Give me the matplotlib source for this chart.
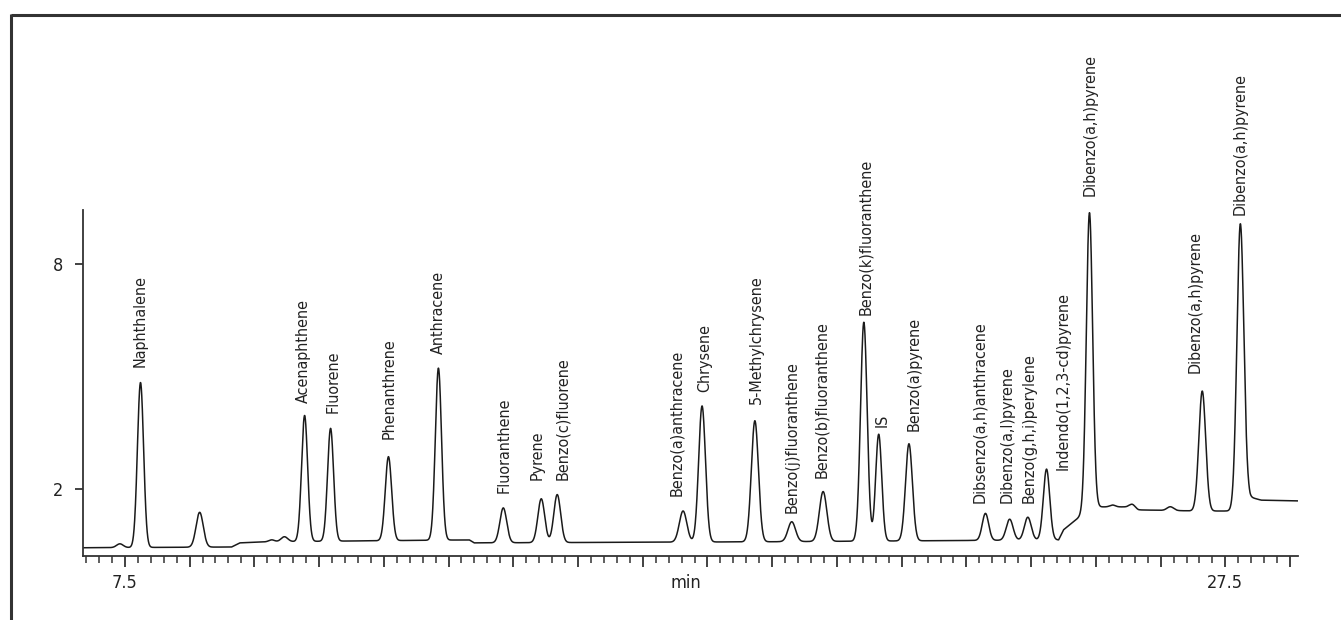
import numpy as np
import matplotlib
matplotlib.use("Agg")
import matplotlib.pyplot as plt
from matplotlib.lines import Line2D
from matplotlib.ticker import FixedLocator, FuncFormatter

plt.rcParams['font.family'] = ['DejaVu Sans']
plt.rcParams['font.stretch'] = 'condensed'

# peak table (retention time in min, height above baseline, sigma in min)
peak_rt = [7.41, 7.785, 8.86, 10.17, 10.40, 10.767, 11.239, 12.291, 13.199,
           14.378, 15.068, 15.358, 17.645, 17.99, 18.95, 19.62, 20.19,
           20.93, 21.20, 21.75, 23.14, 23.58, 23.91, 24.25, 25.03,
           25.45, 25.81, 26.50, 27.08, 27.77]
peak_height = [0.10, 4.40, 0.93, 0.05, 0.13, 3.36, 3.01, 2.24, 4.59,
               0.93, 1.17, 1.28, 0.83, 3.63, 3.23, 0.53, 1.33,
               5.84, 2.85, 2.59, 0.72, 0.56, 0.61, 1.89, 7.92,
               0.05, 0.10, 0.10, 3.20, 7.39]
peak_sigma = [0.06, 0.056, 0.065, 0.05, 0.06, 0.055, 0.055, 0.058, 0.056,
              0.062, 0.062, 0.062, 0.068, 0.062, 0.064, 0.068, 0.068,
              0.06, 0.055, 0.062, 0.058, 0.062, 0.062, 0.058, 0.057,
              0.05, 0.05, 0.06, 0.062, 0.062]

# baseline breakpoints (min, signal)
base_t = [6.74, 9.44, 9.59, 10.10, 13.76, 13.85, 19.21, 24.47, 24.56,
          24.94, 25.10, 25.74, 25.92, 27.01, 27.72, 27.84, 27.95, 28.15, 28.82]
base_v = [0.43, 0.45, 0.56, 0.59, 0.64, 0.56, 0.59, 0.64, 0.91,
          1.36, 1.52, 1.52, 1.44, 1.41, 1.41, 2.05, 1.78, 1.70, 1.68]

# peak labels
label_names = ["Naphthalene", "Acenaphthene", "Fluorene", "Phenanthrene", "Anthracene",
               "Fluoranthene", "Pyrene", "Benzo(c)fluorene", "Benzo(a)anthracene",
               "Chrysene", "5-Methylchrysene", "Benzo(j)fluoranthene",
               "Benzo(b)fluoranthene", "Benzo(k)fluoranthene", "IS", "Benzo(a)pyrene",
               "Dibsenzo(a,h)anthracene", "Dibenzo(a,l)pyrene", "Benzo(g,h,i)perylene",
               "Indendo(1,2,3-cd)pyrene", "Dibenzo(a,h)pyrene", "Dibenzo(a,h)pyrene",
               "Dibenzo(a,h)pyrene"]
label_t = [7.785, 10.75, 11.28, 12.31, 13.199, 14.40, 14.99, 15.45, 17.53,
           18.03, 18.97, 19.62, 20.16, 20.97, 21.26, 21.84, 23.03, 23.54, 23.94,
           24.56, 25.05, 26.95, 27.77]
label_y = [5.25, 4.29, 4.03, 3.33, 5.60, 1.89, 2.24, 2.24, 1.81, 4.59, 4.27,
           1.36, 2.29, 6.64, 3.65, 3.55, 1.63, 1.63, 1.63, 2.51, 9.81, 5.09, 9.31]

t = np.linspace(6.74, 28.82, 6000)
signal = np.interp(t, base_t, base_v)
for rt, h, s in zip(peak_rt, peak_height, peak_sigma):
    signal = signal + h * np.exp(-0.5 * ((t - rt) / s) ** 2)

fig = plt.figure(figsize=(13.41, 6.2), dpi=100)
ax = fig.add_axes([83 / 1341, 1 - 556 / 620, (1298 - 83) / 1341, (556 - 210) / 620])

ax.plot(t, signal, color='#1a1a1a', lw=1.1)
ax.set_xlim(6.74, 28.82)
ax.set_ylim(0.21, 9.44)

for sp in ['top', 'right']:
    ax.spines[sp].set_visible(False)
for sp in ['left', 'bottom']:
    ax.spines[sp].set_color('#333333')
    ax.spines[sp].set_linewidth(1.3)

major = 7.5 + np.arange(0, 19) * 20 / 17
minor = 7.5 - 3 * 4 / 17 + np.arange(0, 95) * 4 / 17
minor = minor[(minor <= 28.82)]
ax.xaxis.set_major_locator(FixedLocator(major))
ax.xaxis.set_minor_locator(FixedLocator(minor))
ax.xaxis.set_major_formatter(FuncFormatter(
    lambda v, p: '7.5' if abs(v - 7.5) < 0.01 else ('27.5' if abs(v - 27.5) < 0.01 else '')))
ax.tick_params(axis='x', which='major', length=8, width=1.3, color='#333333',
               labelsize=13, pad=5, labelcolor='#222222')
ax.tick_params(axis='x', which='minor', length=5, width=1.1, color='#333333')
ax.set_yticks([2, 8])
ax.set_yticklabels(['2', '8'])
ax.tick_params(axis='y', length=6, width=1.3, color='#333333', labelsize=13, pad=8,
               labelcolor='#222222')
ax.set_xlabel('min', fontsize=13, color='#222222')
ax.xaxis.set_label_coords(0.496, -0.052)

for name, lx, ly in zip(label_names, label_t, label_y):
    ax.text(lx, ly, name, rotation=90, ha='center', va='bottom', fontsize=11.5,
            color='#222222', clip_on=False)

# frame lines at the top and left edge of the figure
fig.add_artist(Line2D([11 / 1341, 1], [1 - 14.5 / 620, 1 - 14.5 / 620],
                      transform=fig.transFigure, color='#333333', lw=2.2,
                      solid_capstyle='butt'))
fig.add_artist(Line2D([11 / 1341, 11 / 1341], [0, 1 - 13.5 / 620],
                      transform=fig.transFigure, color='#333333', lw=2.2,
                      solid_capstyle='butt'))

fig.savefig('out.png', dpi=100, facecolor='white')
